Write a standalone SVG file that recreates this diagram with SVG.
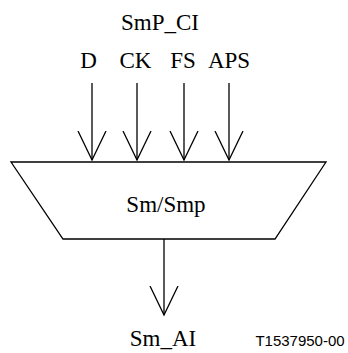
<svg xmlns="http://www.w3.org/2000/svg" width="348" height="353" viewBox="0 0 348 353">
<style>
.t{font-family:"Liberation Serif","Times New Roman",serif;font-size:23px;fill:#000;text-anchor:middle}
.s{font-family:"Liberation Sans",Arial,sans-serif;font-size:15px;fill:#000;text-anchor:middle}
.ln{stroke:#000;stroke-width:1.3;fill:none}
</style>
<defs>
<marker id="ah" markerUnits="userSpaceOnUse" markerWidth="32" markerHeight="32" refX="29" refY="15" orient="auto" viewBox="0 0 32 30">
<path d="M0,1 L29,15 L0,29" fill="none" stroke="#000" stroke-width="1.3"/>
</marker>
</defs>
<g id="title"><text class="t" x="160" y="30">SmP_CI</text></g>
<g id="labels">
<text class="t" x="88.5" y="68">D</text>
<text class="t" x="135.5" y="68">CK</text>
<text class="t" x="183" y="68">FS</text>
<text class="t" x="229" y="68">APS</text>
</g>
<g id="block">
<polygon class="ln" points="11,162 326,162 275,239 63,239"/>
<text class="t" x="166" y="212">Sm/Smp</text>
</g>
<g id="connectors">
<line class="ln" x1="92" y1="83" x2="92" y2="160" marker-end="url(#ah)"/>
<line class="ln" x1="137" y1="83" x2="137" y2="160" marker-end="url(#ah)"/>
<line class="ln" x1="184" y1="83" x2="184" y2="160" marker-end="url(#ah)"/>
<line class="ln" x1="229" y1="83" x2="229" y2="160" marker-end="url(#ah)"/>
<line class="ln" x1="164" y1="239" x2="164" y2="315" marker-end="url(#ah)"/>
</g>
<g id="output"><text class="t" x="163" y="346">Sm_AI</text></g>
<g id="ref"><text class="s" x="300" y="346">T1537950-00</text></g>
</svg>
